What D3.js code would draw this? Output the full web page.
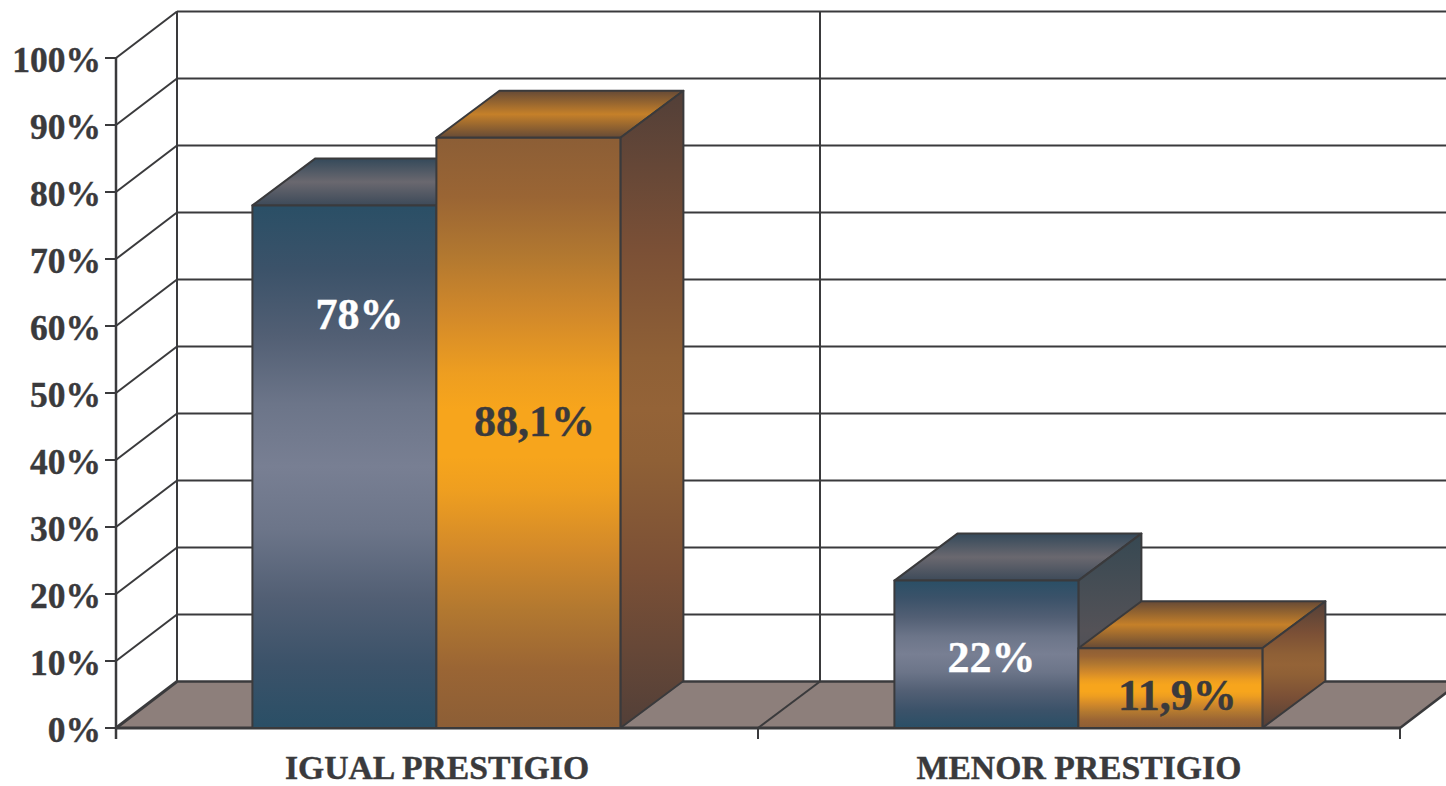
<!DOCTYPE html>
<html><head><meta charset="utf-8">
<style>html,body{margin:0;padding:0;background:#fff;overflow:hidden}svg{display:block}
text{font-family:"Liberation Serif",serif;font-weight:bold;fill:#3a3a3c;stroke:#3a3a3c;stroke-width:.4px}</style>
<script src="https://cdn.jsdelivr.net/npm/d3@7"></script></head><body>
<script>
const categories=["IGUAL PRESTIGIO","MENOR PRESTIGIO"];
const seriesNames=["blue","orange"];
const blueValues=[78,22];
const orangeValues=[88.1,11.9];
const blueLabels=["78%","22%"];
const orangeLabels=["88,1%","11,9%"];
const tickValues=[0,10,20,30,40,50,60,70,80,90,100];

const W=1446,H=786,ink="#3a3a3c";
const y=d3.scaleLinear().domain([0,100]).range([728,58]);
const x0=d3.scaleBand().domain(categories).range([116,1400]);
const x1=d3.scaleBand().domain(seriesNames).range([136.4,504.4]);
const dx=61,dy=46.5,bdx=63,bdy=47;
const svg=d3.select("body").append("svg").attr("width",W).attr("height",H);
const defs=svg.append("defs");
function grad(id,stops){
  const g=defs.append("linearGradient").attr("id",id).attr("x1",0).attr("x2",0).attr("y1",0).attr("y2",1);
  stops.forEach(([o,c])=>g.append("stop").attr("offset",o).attr("stop-color",c));
}
const mirror=s=>s.concat(s.slice(0,-1).reverse().map(([o,c])=>[1-o,c]));
grad("bf",mirror([[0,"#2a4f66"],[.12,"#3b5269"],[.25,"#525f74"],[.38,"#6c7589"],[.5,"#787f93"]]));
grad("bt",[[0,"#34495a"],[.5,"#6a686f"],[1,"#3d4a59"]]);
grad("bs",[[0,"#364852"],[.5,"#545257"],[1,"#3d4a55"]]);
grad("of",mirror([[0,"#8c5e36"],[.1,"#9a6534"],[.2,"#b27830"],[.3,"#d2892a"],[.4,"#ee9e20"],[.46,"#f7a51c"],[.5,"#f7a51c"]]));
grad("ot",[[0,"#664a36"],[.5,"#c58029"],[1,"#664a36"]]);
grad("os",mirror([[0,"#523f38"],[.25,"#7b5036"],[.42,"#8f6036"],[.5,"#946337"]]));

const line=(x1,y1,x2,y2,w=2)=>svg.append("line").attr("x1",x1).attr("y1",y1).attr("x2",x2).attr("y2",y2).attr("stroke",ink).attr("stroke-width",w);
const poly=(pts,fill)=>svg.append("polygon").attr("points",pts.map(p=>p.join(",")).join(" ")).attr("fill",fill).attr("stroke",ink).attr("stroke-width",2).attr("stroke-linejoin","round");

// floor
const X0=116,X1=x0.range()[1],B0=y(0);
svg.append("polygon").attr("points",[[X0,B0],[X0+dx,B0-dy],[X1+dx,B0-dy],[X1,B0]].map(p=>p.join(",")).join(" ")).attr("fill","#8d7f7b");
// walls
tickValues.forEach(t=>{
  line(X0,y(t),X0+dx,y(t)-dy,t===0?3:2);
  line(X0+dx,y(t)-dy,W,y(t)-dy,t===0?2.5:2);
  line(105,y(t),X0,y(t),2);
});
line(X0+dx,y(100)-dy,X0+dx,B0-dy,2);
const mid=x0.range()[0]+x0.bandwidth();
line(mid+dx+1,y(100)-dy,mid+dx+1,B0-dy,2);
line(mid,B0,mid+dx+1,B0-dy,2);
line(X1,B0,X1+dx,B0-dy,2.5);
line(X0,y(100),X0,739,2.5);
line(mid,B0,mid,739,2);
line(X1,B0,X1,739,2);
line(X0,B0,X1,B0,3);

// bars
function bar(cat,name,v,prefix){
  const l=x0(cat)+x1(name),r=l+x1.bandwidth(),t=y(v),b=y(0);
  poly([[l,t],[l+bdx,t-bdy],[r+bdx,t-bdy],[r,t]],`url(#${prefix}t)`);
  poly([[r,t],[r+bdx,t-bdy],[r+bdx,b-bdy],[r,b]],`url(#${prefix}s)`);
  poly([[l,t],[r,t],[r,b],[l,b]],`url(#${prefix}f)`);
}
categories.forEach((c,i)=>{
  bar(c,"blue",blueValues[i],"b");
  bar(c,"orange",orangeValues[i],"o");
});

// tick labels
tickValues.forEach(t=>svg.append("text").attr("x",101).attr("y",y(t)+13.5).attr("text-anchor","end").attr("font-size",35.5).text(t+"%"));
categories.forEach((c,i)=>svg.append("text").attr("x",x0(c)+x0.bandwidth()/2+(i?0:0)).attr("y",778.5).attr("text-anchor","middle").attr("font-size",33.7).text(c));

// value labels
const blueLabelBaseline=[329,672],orangeLabelBaseline=[436,710];
categories.forEach((c,i)=>{
  svg.append("text").attr("x",x0(c)+x1("blue")+x1.bandwidth()/2+(i?5:15)).attr("y",blueLabelBaseline[i]).attr("text-anchor","middle").attr("font-size",44).style("fill","#fff").style("stroke","#fff").text(blueLabels[i]);
  svg.append("text").attr("x",x0(c)+x1("orange")+x1.bandwidth()/2+(i?7:6)).attr("y",orangeLabelBaseline[i]).attr("text-anchor","middle").attr("font-size",44).text(orangeLabels[i]);
});
</script></body></html>
